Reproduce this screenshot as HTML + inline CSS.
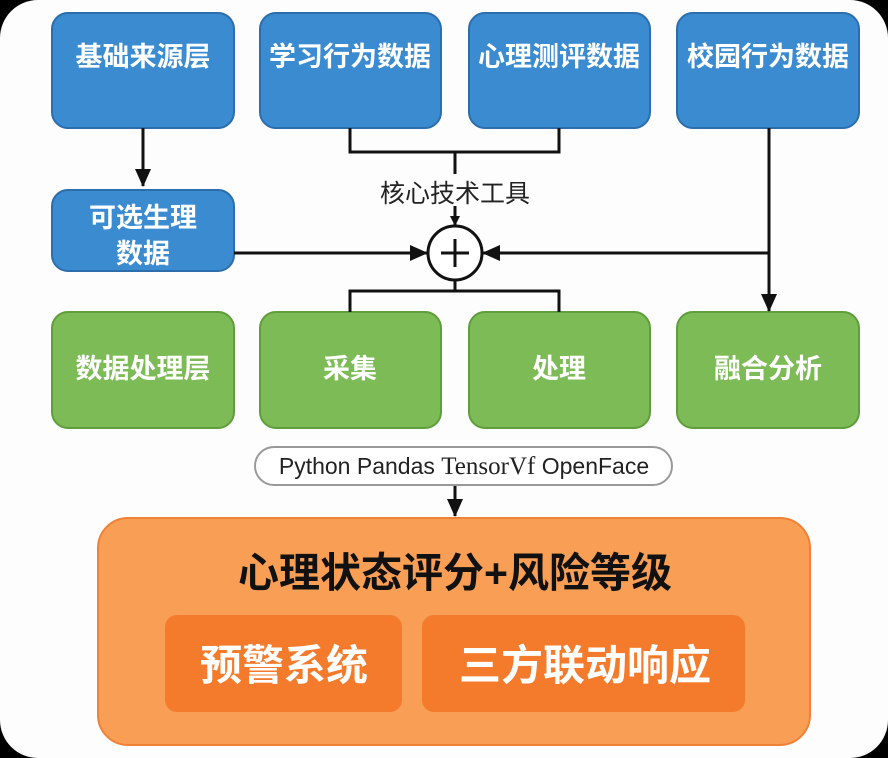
<!DOCTYPE html>
<html><head><meta charset="utf-8"><style>
html,body{margin:0;padding:0;background:#000;}
body{width:888px;height:758px;overflow:hidden;}
svg{display:block}
text{font-family:"Liberation Sans","Noto Sans CJK SC",sans-serif;}
</style></head><body>
<svg width="888" height="758" viewBox="0 0 888 758" xmlns="http://www.w3.org/2000/svg">
<defs>
<marker id="a" markerWidth="10" markerHeight="10" refX="9" refY="5" orient="auto" markerUnits="userSpaceOnUse"><path d="M0,0 L10,5 L0,10 Z" fill="#111"/></marker>
<marker id="b" markerWidth="18" markerHeight="16" refX="17" refY="8" orient="auto" markerUnits="userSpaceOnUse"><path d="M0,0 L18,8 L0,16 Z" fill="#111"/></marker>
</defs>
<rect x="0" y="0" width="888" height="758" rx="38" fill="#fdfdfd"/>
<g fill="#3b8bd1" stroke="#2c6eac" stroke-width="2">
<rect x="52" y="13" width="182" height="115" rx="16"/>
<rect x="260" y="13" width="181" height="115" rx="16"/>
<rect x="469" y="13" width="181" height="115" rx="16"/>
<rect x="677" y="13" width="182" height="115" rx="16"/>
<rect x="52" y="190" width="182" height="81" rx="16"/>
</g>
<g fill="#7dbb57" stroke="#5f9d3d" stroke-width="2">
<rect x="52" y="312" width="182" height="116" rx="16"/>
<rect x="260" y="312" width="181" height="116" rx="16"/>
<rect x="469" y="312" width="181" height="116" rx="16"/>
<rect x="677" y="312" width="182" height="116" rx="16"/>
</g>
<g fill="#fff" font-weight="bold" font-size="27" text-anchor="middle">
<text x="143" y="66">基础来源层</text>
<text x="350" y="66">学习行为数据</text>
<text x="559" y="66">心理测评数据</text>
<text x="768" y="66">校园行为数据</text>
<text x="143" y="227">可选生理</text>
<text x="143" y="263">数据</text>
<text x="143" y="378">数据处理层</text>
<text x="350" y="378">采集</text>
<text x="559" y="378">处理</text>
<text x="768" y="378">融合分析</text>
</g>
<g stroke="#111" stroke-width="3" fill="none">
<line x1="143" y1="128" x2="143" y2="186" marker-end="url(#b)"/>
<polyline points="350,128 350,152 559,152 559,128"/>
<line x1="455" y1="152" x2="455" y2="174"/>
<line x1="455" y1="206" x2="455" y2="225" marker-end="url(#a)"/>
<line x1="234" y1="253" x2="427" y2="253" marker-end="url(#b)"/>
<line x1="769" y1="253" x2="483" y2="253" marker-end="url(#b)"/>
<line x1="769" y1="128" x2="769" y2="311" marker-end="url(#b)"/>
<line x1="455" y1="280" x2="455" y2="291"/>
<polyline points="350,312 350,291 559,291 559,312"/>
<circle cx="455" cy="253" r="27" fill="#fff"/>
<line x1="441" y1="253" x2="469" y2="253"/>
<line x1="455" y1="239" x2="455" y2="267"/>
<line x1="455" y1="485" x2="455" y2="516" marker-end="url(#b)"/>
</g>
<text x="455" y="202" font-size="25" text-anchor="middle" fill="#222">核心技术工具</text>
<rect x="255" y="447" width="417" height="38" rx="19" fill="#fff" stroke="#999" stroke-width="2"/>
<text x="464" y="474" font-size="23" text-anchor="middle" fill="#222">Python Pandas <tspan font-family="Liberation Serif" font-size="25">TensorVf</tspan> OpenFace</text>
<rect x="98" y="518" width="712" height="227" rx="30" fill="#f89e55" stroke="#f08236" stroke-width="2"/>
<text x="455" y="587" font-size="41" font-weight="bold" text-anchor="middle" fill="#111">心理状态评分+风险等级</text>
<rect x="165" y="615" width="237" height="97" rx="12" fill="#f47b2c"/>
<rect x="422" y="615" width="323" height="97" rx="12" fill="#f47b2c"/>
<text x="284" y="680" font-size="42" font-weight="bold" text-anchor="middle" fill="#fff">预警系统</text>
<text x="585" y="680" font-size="42" font-weight="bold" text-anchor="middle" fill="#fff">三方联动响应</text>
</svg>
</body></html>
